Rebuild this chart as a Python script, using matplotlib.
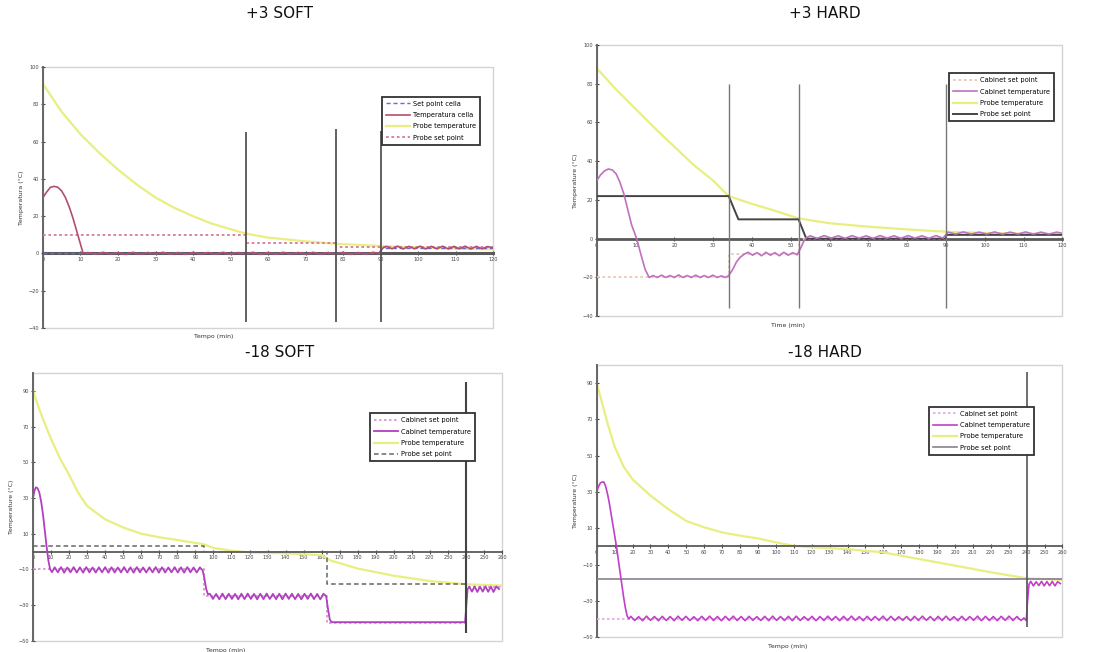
import numpy as np
import matplotlib
matplotlib.use("Agg")
import matplotlib.pyplot as plt
from matplotlib.patches import Rectangle

# ---------------- DATA ----------------
titles = ["+3 SOFT", "+3 HARD", "-18 SOFT", "-18 HARD"]

# ---- Panel 1: +3 SOFT ----
p1_labels = ["Set point cella", "Temperatura cella", "Probe temperature", "Probe set point"]
p1_probe_t = [0, 5, 10, 15, 20, 25, 30, 35, 40, 45, 50, 54, 60, 70, 78, 90, 100, 110, 120]
p1_probe_v = [91, 76, 64, 54, 45, 37, 30, 24.5, 20, 16, 13, 10.7, 8.5, 6.5, 5.2, 4, 3.2, 2.6, 2.2]
p1_cab_start_t = [0, 1, 2, 3, 4, 5, 6, 7, 8, 9, 10, 10.7]
p1_cab_start_v = [30, 33, 35.5, 36, 35.5, 33.5, 30, 25, 19, 12, 5, 0]
p1_cab_osc1 = [0.5, -0.4, 0.6, -0.3, 0.5, -0.5, 0.6, -0.4, 0.5, -0.3,
               0.6, -0.4, 0.5, -0.5, 0.6, -0.3, 0.5, -0.4, 0.6, -0.4,
               0.5, -0.3, 0.6, -0.5, 0.5, -0.4, 0.6, -0.3, 0.5, -0.4,
               0.6, -0.4, 0.5, -0.3, 0.6, -0.5, 0.5, -0.4, 0.6]
p1_cab_mid_t = [89.5, 90.5]
p1_cab_mid_v = [0.0, 2.8]
p1_cab_osc2 = [3.8, 2.5, 3.9, 2.4, 3.8, 2.5, 3.9, 2.4, 3.8, 2.5,
               3.9, 2.4, 3.8, 2.5, 3.9, 2.4, 3.8, 2.5, 3.7]
p1_cab_end_t = [120]
p1_cab_end_v = [3.0]
p1_cabset_t = [0, 90, 90, 120]
p1_cabset_v = [0, 0, 3, 3]
p1_probeset_t = [0, 54, 54, 78, 78, 120]
p1_probeset_v = [10, 10, 5.5, 5.5, 3.5, 3.5]
p1_phase_t = [54, 78, 90]
p1_phase_lo = [-37, -37, -37]
p1_phase_hi = [65, 67, 65.5]

# ---- Panel 2: +3 HARD ----
p2_labels = ["Cabinet set point", "Cabinet temperature", "Probe temperature", "Probe set point"]
p2_probe_t = [0, 5, 10, 15, 20, 25, 30, 34, 40, 45, 52, 60, 70, 80, 90, 100, 110, 120]
p2_probe_v = [88, 77, 67, 57, 47.5, 38, 30, 22, 18, 15, 10.5, 8, 6.2, 4.8, 3.6, 3, 2.6, 2.3]
p2_cab_start_t = [0, 1, 2, 3, 4, 5, 6, 7, 8, 9, 10.3, 11.5, 12.5, 13.5]
p2_cab_start_v = [30, 33, 35, 36, 35.5, 33.5, 29, 23, 15, 7, 0, -9, -16, -20]
p2_cab_osc1 = [-19.0, -20.0, -18.8, -20.0, -19.0, -20.0, -18.7, -20.0, -19.0,
               -20.0, -18.8, -20.0, -19.0, -20.0, -18.8, -20.0, -19.2, -20.0]
p2_cab_rise1_t = [34, 35, 36, 37, 38]
p2_cab_rise1_v = [-19, -16, -12, -9.5, -8]
p2_cab_osc2 = [-7.0, -8.5, -7.2, -8.8, -7.0, -8.5, -7.2, -8.8, -7.0, -8.5, -7.2, -8.3]
p2_cab_rise2_t = [52.5, 53.3, 54]
p2_cab_rise2_v = [-5, -1.5, 0.5]
p2_cab_osc3 = [1.5, 0.2, 1.6, 0.3, 1.5, 0.2, 1.6, 0.3, 1.5, 0.2,
               1.6, 0.3, 1.5, 0.2, 1.6, 0.3, 1.5, 0.2, 1.6, 0.3]
p2_cab_osc4 = [3.4, 2.4, 3.5, 2.4, 3.4, 2.4, 3.5, 2.4, 3.4, 2.4, 3.5, 2.4, 3.4, 2.4, 3.4]
p2_cab_end_t = [120]
p2_cab_end_v = [2.8]
p2_cabset_t = [0, 34, 34, 52, 52, 90, 90, 120]
p2_cabset_v = [-20, -20, -8, -8, 0, 0, 2, 2]
p2_probeset_t = [0, 34, 36.5, 52, 54, 90, 90, 120]
p2_probeset_v = [22, 22, 10, 10, 0, 0, 2, 2]
p2_phase_t = [34, 52, 90]
p2_phase_lo = [-36, -36, -36]
p2_phase_hi = [80, 80, 80]

# ---- Panel 3: -18 SOFT ----
p3_labels = ["Cabinet set point", "Cabinet temperature", "Probe temperature", "Probe set point"]
p3_probe_t = [0, 3, 6, 10, 15, 20, 25, 30, 40, 50, 60, 70, 80, 95, 100, 110, 120, 140, 160,
              165, 180, 200, 220, 240, 260]
p3_probe_v = [90, 81, 73, 63, 52, 43, 33, 25.5, 18, 13.5, 10, 8, 6.5, 4, 2, 0.5, -0.5, -1, -2,
              -5, -9.5, -13.5, -16.5, -18.3, -19]
p3_cab_start_t = [0, 0.8, 1.6, 2.5, 3.5, 4.5, 5.5, 6.5, 7.5, 8.5, 9.5, 10.5]
p3_cab_start_v = [30, 34, 36, 35.5, 33, 28, 21, 12, 3, -5, -10, -11.5]
p3_cab_osc1 = [-8.8, -11.6, -8.7, -11.8, -8.9, -11.6, -8.7, -11.7, -8.8, -11.8,
               -8.7, -11.6, -8.9, -11.7, -8.8, -11.6, -8.7, -11.8, -8.8, -11.7,
               -8.9, -11.6, -8.7, -11.7, -8.8, -11.8, -8.7, -11.6, -8.9, -11.7,
               -8.8, -11.6, -8.7, -11.8, -8.8, -11.7, -8.9, -11.6, -8.7, -11.7,
               -8.8, -11.8, -8.7, -11.6, -8.9, -11.7, -8.8]
p3_cab_drop1_t = [94, 95, 96, 97]
p3_cab_drop1_v = [-10.5, -15, -21, -24]
p3_cab_osc2 = [-23.6, -26.5, -23.7, -26.7, -23.5, -26.6, -23.6, -26.5, -23.7, -26.7,
               -23.6, -26.6, -23.5, -26.5, -23.7, -26.7, -23.6, -26.6, -23.5, -26.5,
               -23.7, -26.6, -23.6, -26.7, -23.5, -26.5, -23.6, -26.6, -23.7, -26.7,
               -23.6, -26.5, -23.5, -26.6, -23.7, -26.7, -23.6]
p3_cab_drop2_t = [162.5, 163.5, 164.5, 165.5, 239.5, 240.2, 240.9]
p3_cab_drop2_v = [-25, -32, -38, -39.5, -39.5, -30, -21]
p3_cab_osc3 = [-19.6, -22.4, -19.5, -22.6, -19.7, -22.4, -19.5, -22.5, -19.6, -22.6, -19.5, -21]
p3_cabset_t = [0, 95, 95, 163, 163, 240, 240, 260]
p3_cabset_v = [-10, -10, -25, -25, -40, -40, -20, -20]
p3_probeset_t = [0, 95, 95, 163, 163, 240]
p3_probeset_v = [3.3, 3.3, 0, 0, -18, -18]
p3_phase_t = [240]
p3_phase_lo = [-45.5]
p3_phase_hi = [95]

# ---- Panel 4: -18 HARD ----
p4_labels = ["Cabinet set point", "Cabinet temperature", "Probe temperature", "Probe set point"]
p4_probe_t = [0, 3, 6, 10, 15, 20, 30, 40, 50, 60, 70, 80, 90, 100, 110, 120, 140, 160, 180,
              200, 220, 240, 260]
p4_probe_v = [90, 79, 68, 55, 44, 37, 28, 20.5, 14, 10.5, 7.7, 5.9, 4.4, 2.2, 0.3, -0.5, -1.5,
              -3.3, -7, -10.6, -14.3, -17.6, -18.5]
p4_cab_start_t = [0, 1, 2, 3, 4, 5, 6, 7, 8, 9, 10, 11, 12, 13, 14, 15, 16, 17, 18]
p4_cab_start_v = [30, 33, 35, 35.5, 35.5, 33, 29, 24, 18, 12, 6, 0, -7, -14, -21, -28, -34,
                  -38.5, -40]
p4_cab_osc1 = [-38.6, -40.9, -38.8, -41.0, -38.5, -40.8, -38.7, -41.0, -38.6, -40.9,
               -38.7, -41.0, -38.5, -40.8, -38.6, -40.9, -38.8, -41.0, -38.6, -40.8,
               -38.5, -40.9, -38.7, -41.0, -38.6, -40.8, -38.5, -40.9, -38.7, -41.0,
               -38.6, -40.8, -38.8, -40.9, -38.6, -41.0, -38.5, -40.8, -38.7, -40.9,
               -38.6, -41.0, -38.5, -40.9, -38.8, -40.8, -38.6, -41.0, -38.7, -40.9,
               -38.5, -40.8, -38.7, -41.0, -38.6, -40.9, -38.5, -40.8, -38.8, -41.0,
               -38.6, -40.9, -38.7, -40.8, -38.5, -41.0, -38.6, -40.9, -38.8, -40.8,
               -38.7, -41.0, -38.6, -40.9, -38.5, -40.8, -38.7, -41.0, -38.6, -40.9,
               -38.5, -40.8, -38.8, -41.0, -38.6, -40.9, -38.7, -40.8, -38.5, -41.0,
               -38.6, -40.9, -38.7, -41.0, -38.6, -40.8, -38.5, -40.9, -38.7, -40.9]
p4_cab_rise_t = [238.5, 239.8, 240.5, 241.3]
p4_cab_rise_v = [-39.5, -41, -30, -21]
p4_cab_osc2 = [-19.3, -21.8, -19.5, -21.6, -19.3, -21.8, -19.4, -21.7, -19.3, -21.8, -19.5, -20.5]
p4_cabset_t = [0, 240, 240, 260]
p4_cabset_v = [-40, -40, -18, -18]
p4_probeset_t = [0, 260]
p4_probeset_v = [-18, -18]
p4_phase_t = [240]
p4_phase_lo = [-44.5]
p4_phase_hi = [96]


# ---------------- helpers ----------------
def osc(start, step, values):
    return [start + step * i for i in range(len(values))], list(values)


def join(*pieces):
    t, v = [], []
    for pt, pv in pieces:
        t += list(pt)
        v += list(pv)
    return t, v


p1_cab = join((p1_cab_start_t, p1_cab_start_v), osc(12, 2, p1_cab_osc1),
              (p1_cab_mid_t, p1_cab_mid_v), osc(91.5, 1.5, p1_cab_osc2),
              (p1_cab_end_t, p1_cab_end_v))
p2_cab = join((p2_cab_start_t, p2_cab_start_v), osc(14.5, 1.1, p2_cab_osc1),
              (p2_cab_rise1_t, p2_cab_rise1_v), osc(39, 1.15, p2_cab_osc2),
              (p2_cab_rise2_t, p2_cab_rise2_v), osc(55, 1.8, p2_cab_osc3),
              osc(90.5, 2, p2_cab_osc4), (p2_cab_end_t, p2_cab_end_v))
p3_cab = join((p3_cab_start_t, p3_cab_start_v), osc(12, 1.75, p3_cab_osc1),
              (p3_cab_drop1_t, p3_cab_drop1_v), osc(98, 1.75, p3_cab_osc2),
              (p3_cab_drop2_t, p3_cab_drop2_v), osc(241.8, 1.5, p3_cab_osc3))
p4_cab = join((p4_cab_start_t, p4_cab_start_v), osc(19, 2.2, p4_cab_osc1),
              (p4_cab_rise_t, p4_cab_rise_v), osc(242.3, 1.5, p4_cab_osc2))

YELLOW = "#e8ef80"

fig = plt.figure(figsize=(11.01, 6.52), dpi=100)
fig.patch.set_facecolor("white")

panels = [
    dict(rect=[0.039, 0.497, 0.409, 0.400], xmax=120, ylim=(-40, 100), yticks=range(-40, 101, 20),
         xlabel="Tempo (min)", xlab_x=0.38, ylabel="Temperatura (\u00b0C)", zlw=2.2,
         leg=(0.978, 0.90), labels=p1_labels,
         cabset=(p1_cabset_t, p1_cabset_v, dict(color="#6a6ad8", ls=(0, (3, 2)), lw=1.0)),
         cab=(p1_cab, dict(color="#b0506e", lw=1.2)),
         probe=(p1_probe_t, p1_probe_v),
         probeset=(p1_probeset_t, p1_probeset_v, dict(color="#d87a98", ls=(0, (1.5, 1.5)), lw=1.3)),
         phase=(p1_phase_t, p1_phase_lo, p1_phase_hi, "#555555", 1.3)),
    dict(rect=[0.542, 0.515, 0.423, 0.416], xmax=120, ylim=(-40, 100), yticks=range(-40, 101, 20),
         xlabel="Time (min)", xlab_x=0.41, ylabel="Temperature (\u00b0C)", zlw=2.0,
         leg=(0.989, 0.908), labels=p2_labels,
         cabset=(p2_cabset_t, p2_cabset_v, dict(color="#e8c8b8", ls=(0, (1.5, 1.5)), lw=1.3)),
         cab=(p2_cab, dict(color="#c070c0", lw=1.2)),
         probe=(p2_probe_t, p2_probe_v),
         probeset=(p2_probeset_t, p2_probeset_v, dict(color="#444444", lw=1.4)),
         phase=(p2_phase_t, p2_phase_lo, p2_phase_hi, "#777777", 1.0)),
    dict(rect=[0.030, 0.017, 0.426, 0.411], xmax=260, ylim=(-50, 100), yticks=range(-50, 91, 20),
         xlabel="Tempo (min)", xlab_x=0.41, ylabel="Temperature (\u00b0C)", zlw=1.3,
         leg=(0.949, 0.862), labels=p3_labels,
         cabset=(p3_cabset_t, p3_cabset_v, dict(color="#d890c8", ls=(0, (1.5, 1.5)), lw=1.2)),
         cab=(p3_cab, dict(color="#b040c0", lw=1.3)),
         probe=(p3_probe_t, p3_probe_v),
         probeset=(p3_probeset_t, p3_probeset_v, dict(color="#666666", ls=(0, (3, 2)), lw=1.1)),
         phase=(p3_phase_t, p3_phase_lo, p3_phase_hi, "#444444", 1.5)),
    dict(rect=[0.542, 0.023, 0.423, 0.417], xmax=260, ylim=(-50, 100), yticks=range(-50, 91, 20),
         xlabel="Tempo (min)", xlab_x=0.41, ylabel="Temperature (\u00b0C)", zlw=1.3,
         leg=(0.946, 0.86), labels=p4_labels,
         cabset=(p4_cabset_t, p4_cabset_v, dict(color="#e0a8e0", ls=(0, (1.5, 1.5)), lw=1.2)),
         cab=(p4_cab, dict(color="#c040c8", lw=1.2)),
         probe=(p4_probe_t, p4_probe_v),
         probeset=(p4_probeset_t, p4_probeset_v, dict(color="#8a8090", lw=1.2)),
         phase=(p4_phase_t, p4_phase_lo, p4_phase_hi, "#555555", 1.2)),
]

title_pos = [(0.254, 0.979), (0.749, 0.979), (0.254, 0.459), (0.749, 0.459)]
for (tx, ty), title in zip(title_pos, titles):
    fig.text(tx, ty, title, ha="center", va="center", fontsize=11, color="#111111")

for p in panels:
    ax = fig.add_axes(p["rect"])
    ax.set_xlim(0, p["xmax"])
    ax.set_ylim(*p["ylim"])
    t, v, kw = p["cabset"]
    h1, = ax.plot(t, v, label=p["labels"][0], zorder=3, **kw)
    (ct, cv), kw = p["cab"]
    h2, = ax.plot(ct, cv, label=p["labels"][1], zorder=4, **kw)
    h3, = ax.plot(p["probe"][0], p["probe"][1], color=YELLOW, lw=1.6, label=p["labels"][2], zorder=2)
    t, v, kw = p["probeset"]
    h4, = ax.plot(t, v, label=p["labels"][3], zorder=3, **kw)
    pt, plo, phi, pc, plw = p["phase"]
    ax.vlines(pt, plo, phi, colors=pc, lw=plw, zorder=5)

    # Excel-like axes: x axis crossing at 0
    for s in ["top", "right"]:
        ax.spines[s].set_visible(False)
    ax.spines["bottom"].set_position(("data", 0))
    ax.spines["bottom"].set_color("#5a5a5a")
    ax.spines["bottom"].set_linewidth(p["zlw"])
    ax.spines["left"].set_color("#666666")
    ax.spines["left"].set_linewidth(1.4)
    ax.add_patch(Rectangle((0, 0), 1, 1, transform=ax.transAxes, fill=False,
                           edgecolor="#d4d4d4", lw=1.0, zorder=0, clip_on=False))

    ax.set_xticks(range(0, p["xmax"] + 1, 10))
    ax.set_yticks(list(p["yticks"]))
    ax.tick_params(axis="both", labelsize=3.6, colors="#444444", length=2.5, width=0.8,
                   direction="inout", pad=1.5)
    ax.set_ylabel(p["ylabel"], fontsize=4.5, color="#333333", labelpad=3)
    ax.text(p["xlab_x"], -0.025, p["xlabel"], transform=ax.transAxes, ha="center", va="top",
            fontsize=4.5, color="#333333")

    leg = ax.legend(handles=[h1, h2, h3, h4], loc="upper right", bbox_to_anchor=p["leg"],
                    fontsize=4.8, frameon=True, fancybox=False, framealpha=1,
                    edgecolor="#333333", handlelength=3.6, labelspacing=0.8,
                    borderpad=0.6, handletextpad=0.4)
    leg.get_frame().set_linewidth(1.3)
    leg.set_zorder(10)

fig.savefig("out.png", dpi=100, facecolor="white")
